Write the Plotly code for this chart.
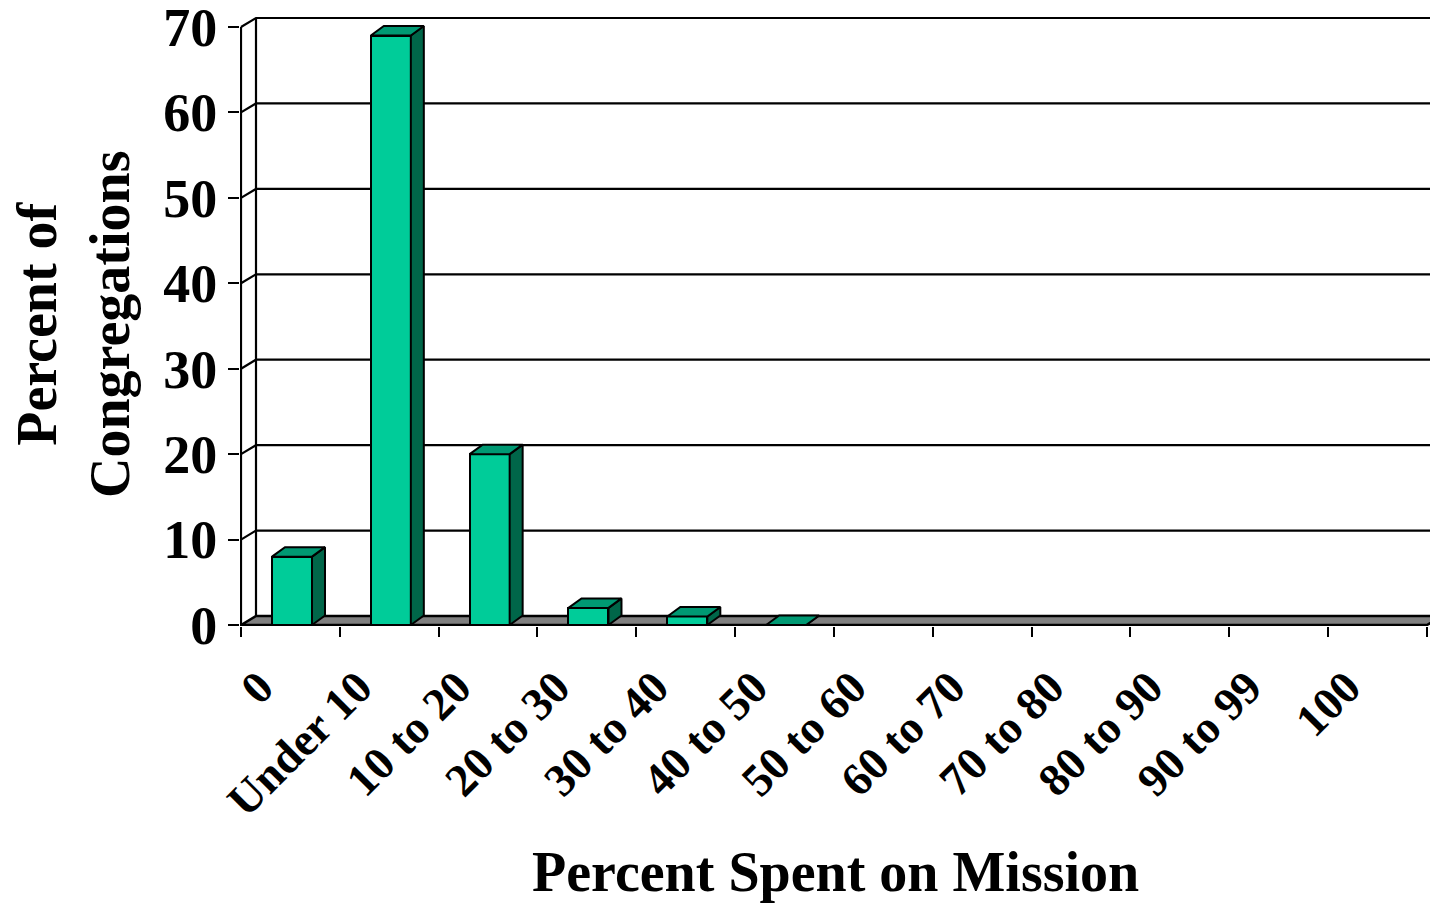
import plotly.graph_objects as go

# data
categories = ["0", "Under 10", "10 to 20", "20 to 30", "30 to 40", "40 to 50",
              "50 to 60", "60 to 70", "70 to 80", "80 to 90", "90 to 99", "100"]
percent = [8, 69, 20, 2, 1, 0, None, None, None, None, None, None]
y_ticks = [0, 10, 20, 30, 40, 50, 60, 70]

# page geometry (pixels)
W, H = 1430, 906
ML, MT = 240, 14
plot_bottom = 626
MB = H - plot_bottom
px_x = 98.83   # pixels per category
px_y = 8.543   # pixels per percent point
plot_w = W - ML
plot_h = plot_bottom - MT
x_lo = -1 / px_x
y_lo = -1 / px_y
x_range = [x_lo, x_lo + plot_w / px_x]
y_range = [y_lo, y_lo + plot_h / px_y]

# fake 3d depth, converted to axis units
wall_dx, wall_dy = 15 / px_x, 9 / px_y
bar_dx, bar_dy = 13 / px_x, 9.5 / px_y
bar_off, bar_w = 31 / px_x, 40 / px_x
n = len(categories)
y_top = y_ticks[-1]

FONT = "Liberation Serif"
FRONT, TOP, SIDE = "#00CC99", "#009973", "#006649"

fig = go.Figure()

# front faces of the columns
fig.add_trace(go.Bar(
    x=[i + bar_off + bar_w / 2 for i in range(n)],
    y=percent,
    width=bar_w,
    marker=dict(color=FRONT, line=dict(color="black", width=2)),
    showlegend=False,
))

# side and top faces
side_x, side_y, top_x, top_y = [], [], [], []
for i, v in enumerate(percent):
    if v is None:
        continue
    l = i + bar_off
    r = l + bar_w
    side_x += [r, r + bar_dx, r + bar_dx, r, r, None]
    side_y += [0, bar_dy, v + bar_dy, v, 0, None]
    top_x += [l, r, r + bar_dx, l + bar_dx, l, None]
    top_y += [v, v, v + bar_dy, v + bar_dy, v, None]

fig.add_trace(go.Scatter(x=side_x, y=side_y, mode="lines", fill="toself",
                         fillcolor=SIDE, line=dict(color="black", width=2),
                         showlegend=False, hoverinfo="skip"))
fig.add_trace(go.Scatter(x=top_x, y=top_y, mode="lines", fill="toself",
                         fillcolor=TOP, line=dict(color="black", width=2),
                         showlegend=False, hoverinfo="skip"))

# floor, walls and gridlines
shapes = []
shapes.append(dict(
    type="path", layer="below",
    path=f"M 0 0 L {n} 0 L {n + wall_dx} {wall_dy} L {wall_dx} {wall_dy} Z",
    fillcolor="#808080", line=dict(color="black", width=2.5)))
for v in y_ticks[1:]:
    shapes.append(dict(
        type="path", layer="below",
        path=f"M 0 {v} L {wall_dx} {v + wall_dy} L {n + wall_dx} {v + wall_dy}",
        line=dict(color="black", width=2.2)))
shapes.append(dict(type="line", layer="below", x0=0, y0=0, x1=0, y1=y_top,
                   line=dict(color="black", width=2.2)))
shapes.append(dict(type="line", layer="below", x0=wall_dx, y0=wall_dy,
                   x1=wall_dx, y1=y_top + wall_dy,
                   line=dict(color="black", width=2.2)))

fig.update_layout(
    width=W, height=H,
    margin=dict(l=ML, r=0, t=MT, b=MB, autoexpand=False),
    paper_bgcolor="white", plot_bgcolor="white",
    shapes=shapes,
    bargap=0,
    font=dict(family=FONT, color="black"),
    annotations=[
        dict(text="Percent of<br>Congregations", textangle=-90,
             xref="paper", yref="paper",
             x=(73 - ML) / plot_w, y=(plot_bottom - 325) / plot_h,
             xanchor="center", yanchor="middle", showarrow=False,
             font=dict(family=FONT, size=56, weight="bold")),
        dict(text="Percent Spent on Mission",
             xref="paper", yref="paper", x=0.5,
             y=(plot_bottom - 872) / plot_h,
             xanchor="center", yanchor="middle", showarrow=False,
             font=dict(family=FONT, size=56, weight="bold")),
    ],
)

fig.update_xaxes(
    range=x_range, showgrid=False, zeroline=False, showline=False,
    automargin=False,
    tickmode="array",
    tickvals=[i + 0.5 - 0.31 for i in range(n)],
    ticktext=categories,
    ticks="", tickangle=-45, ticklabelstandoff=24,
    tickfont=dict(family=FONT, size=46, weight="bold"),
    minor=dict(tickmode="array", tickvals=list(range(n + 1)), ticks="outside",
               ticklen=10, tickwidth=2, tickcolor="black", showgrid=False),
)
fig.update_yaxes(
    range=y_range, showgrid=False, zeroline=False, showline=False,
    automargin=False, ticklabeloverflow="allow",
    tickmode="array", tickvals=y_ticks,
    ticks="outside", ticklen=11, tickwidth=2, tickcolor="black",
    tickfont=dict(family=FONT, size=54, weight="bold"),
)

# drop the default page margin so the figure fills the window exactly
fig.write_html("out.html",
               config={"displayModeBar": False},
               post_script="document.body.style.margin='0';"
                           "document.body.style.overflow='hidden';")
